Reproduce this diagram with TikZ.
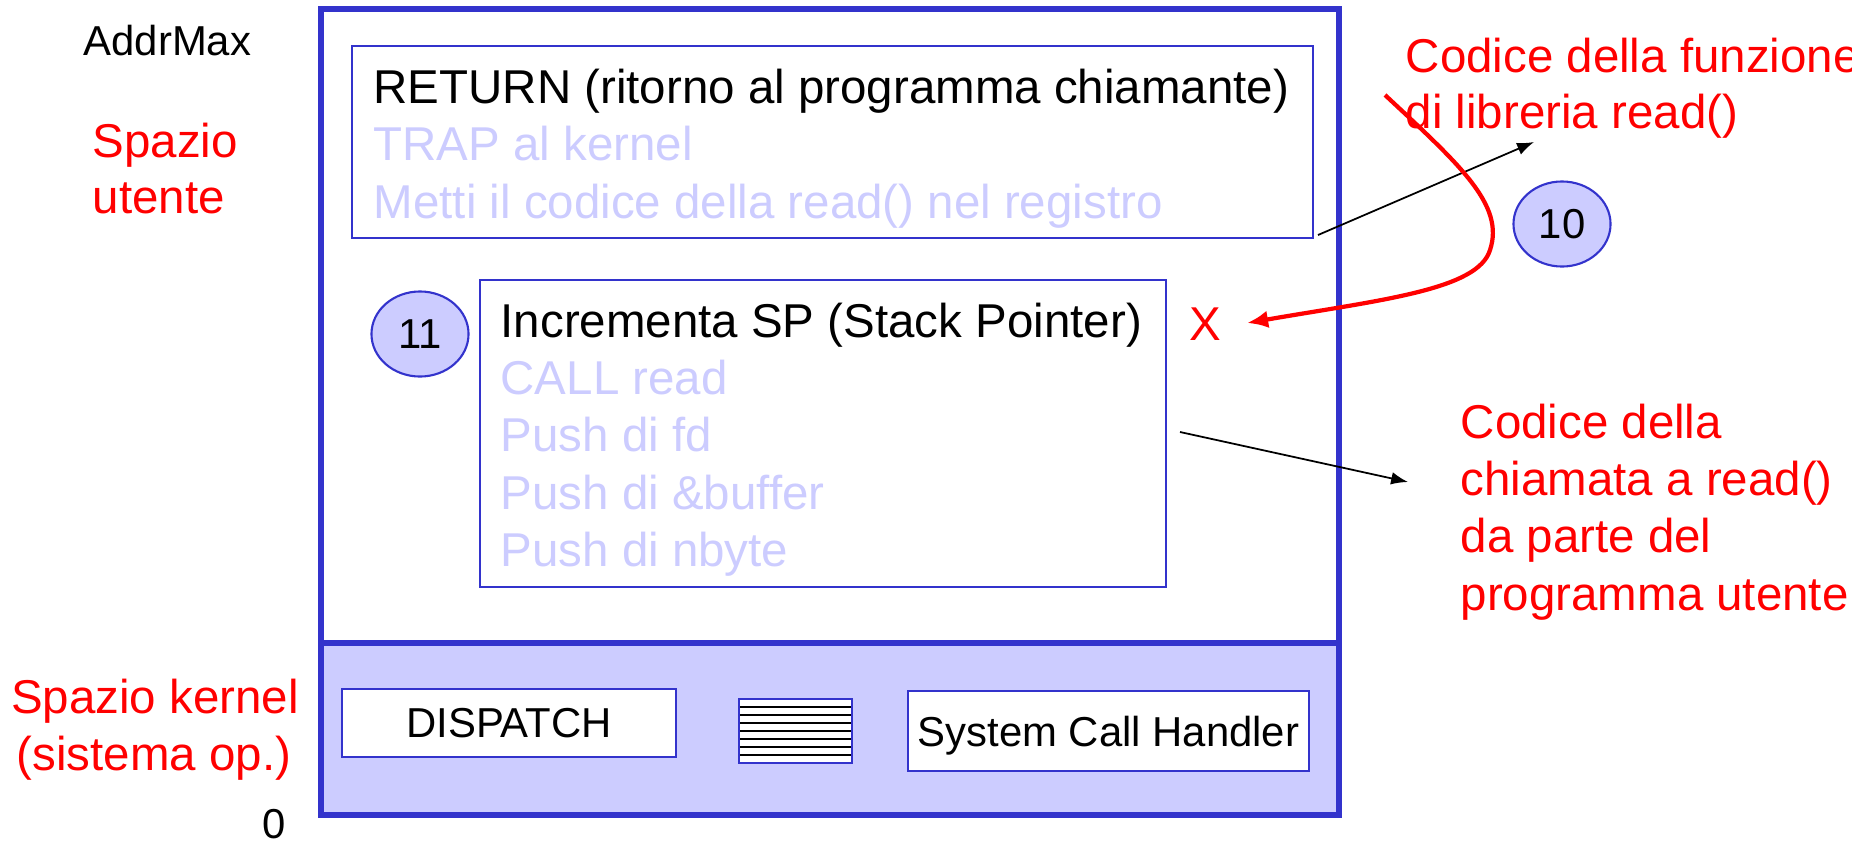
\documentclass[tikz,border=0pt]{standalone}
\usepackage{fontspec}
\setmainfont{Liberation Sans}
\usetikzlibrary{arrows.meta,shapes.geometric}

\definecolor{frameblue}{HTML}{3333CC}
\definecolor{lavender}{HTML}{CCCCFF}
\newcommand{\bigfont}{\fontsize{13.5}{16.3}\selectfont}
\newcommand{\smallfont}{\fontsize{11.9}{14}\selectfont}

\begin{document}
\begin{tikzpicture}[x=0.01cm, y=-0.01cm,
  codebox/.style={draw=frameblue, line width=0.6pt, fill=white, inner sep=0pt},
  kbox/.style={draw=frameblue, line width=0.6pt, fill=white, inner sep=0pt, text depth=0pt, font=\smallfont},
  stepno/.style={ellipse, draw=frameblue, line width=0.6pt, fill=lavender, minimum width=0.97cm, minimum height=0.85cm, inner sep=0pt, font=\smallfont},
  codeline/.style={anchor=base west, inner sep=0pt, font=\bigfont},
  redlabel/.style={anchor=base west, inner sep=0pt, font=\bigfont, text=red},
  ptr/.style={-{Latex[length=4.8pt,width=3.6pt]}, line width=0.5pt}]
  \useasboundingbox (0,0) rectangle (1852,845);

  % spazio di indirizzamento
  \fill[lavender] (321,643) rectangle (1339,815);
  \draw[frameblue, line width=1.7pt] (321,9) rectangle (1339,815);
  \draw[frameblue, line width=1.7pt] (321,643) -- (1339,643);

  % codice della funzione di libreria
  \node[codebox, minimum width=9.61cm, minimum height=1.92cm] (libbox) at (832.5,142) {};
  \node[codeline] (ret) at (373,103) {RETURN (ritorno al programma chiamante)};
  \node[codeline, text=lavender] (trap) at (373,160.5) {TRAP al kernel};
  \node[codeline, text=lavender] (metti) at (373,218) {Metti il codice della read() nel registro};

  % codice della chiamata
  \node[codebox, minimum width=6.86cm, minimum height=3.07cm] (callbox) at (823,433.5) {};
  \node[codeline] (incr) at (500,337) {Incrementa SP (Stack Pointer)};
  \foreach \t [count=\k] in {CALL read, Push di fd, Push di \&buffer, Push di nbyte}
    \node[codeline, text=lavender] (push\k) at (500,337+57.4*\k) {\t};

  % kernel
  \node[kbox, minimum width=3.34cm, minimum height=0.68cm] (dispatch) at (509,723) {DISPATCH};
  \node[codebox, minimum width=1.13cm, minimum height=0.64cm] (table) at (795.5,731) {};
  \foreach \k in {1,...,7}
    \draw[line width=0.4pt] (740,699+8*\k) -- (851,699+8*\k);
  \node[kbox, minimum width=4.01cm, minimum height=0.80cm] (handler) at (1108.5,731) {System Call Handler};

  % passi
  \node[stepno] (s11) at (420,334) {11};
  \node[stepno] (s10) at (1562,224) {10};
  \node[anchor=base, inner sep=0pt, font=\bigfont, text=red] (cross) at (1205,340) {X};

  % etichette a sinistra
  \node[anchor=base west, inner sep=0pt, font=\smallfont] (addrmax) at (83,55) {AddrMax};
  \node[redlabel] (utente1) at (92,157) {Spazio};
  \node[redlabel] (utente2) at (92,213) {utente};
  \node[anchor=base, inner sep=0pt, font=\bigfont, text=red] (kern1) at (155,713) {Spazio kernel};
  \node[anchor=base, inner sep=0pt, font=\bigfont, text=red] (kern2) at (154,770) {(sistema op.)};
  \node[anchor=base, inner sep=0pt, font=\smallfont] (zero) at (274,838) {0};

  % etichette a destra
  \node[redlabel] (lib1) at (1405,72) {Codice della funzione};
  \node[redlabel] (lib2) at (1405,128) {di libreria read()};
  \foreach \t [count=\k from 0] in {Codice della, chiamata a read(), da parte del, programma utente}
    \node[redlabel] (chiam\k) at (1460,438+57.4*\k) {\t};

  % frecce
  \coordinate (libout) at (1318,235);
  \coordinate (libtip) at (1534,142);
  \coordinate (callout) at (1180,432);
  \coordinate (calltip) at (1408,482);
  \draw[ptr] (libout) -- (libtip);
  \draw[ptr] (callout) -- (calltip);

  \coordinate (retstart) at (1385,95);
  \coordinate (crosstip) at (1247,323);
  \draw[red, line width=1.2pt, -{Latex[length=6pt,width=5pt]}]
    (retstart) .. controls (1460,165) and (1505,205) .. (1490,250)
    .. controls (1478,290) and (1380,300) .. (crosstip);
\end{tikzpicture}
\end{document}
